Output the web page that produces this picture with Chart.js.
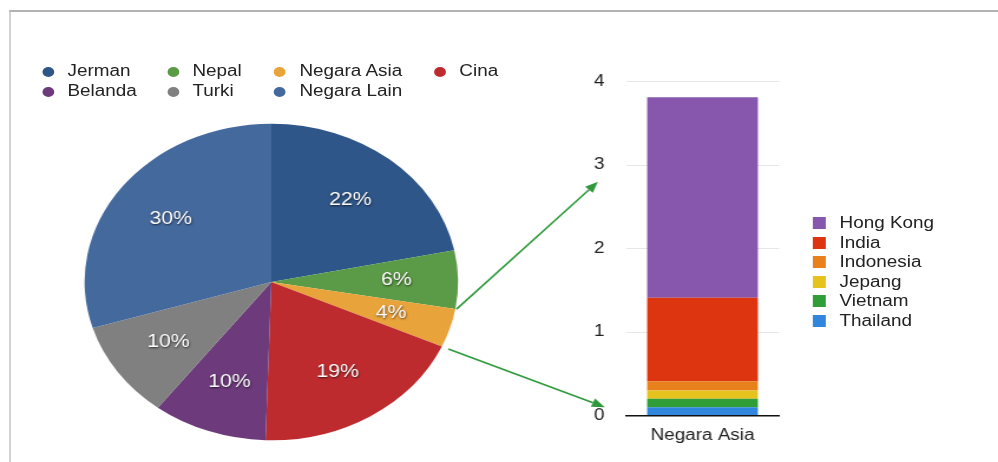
<!DOCTYPE html>
<html>
<head>
<meta charset="utf-8">
<script src="https://cdn.jsdelivr.net/npm/chart.js@4.4.1/dist/chart.umd.min.js"></script>
<style>
  html, body { margin: 0; padding: 0; background: #fff; overflow: hidden; }
  /* the whole picture is stretched sideways, so lay out at 846px and widen */
  #stage { position: absolute; left: 0; top: 0; width: 846px; height: 462px;
           transform: scaleX(1.1797); transform-origin: 0 0;
           font-family: "Liberation Sans", Arial, sans-serif; color: #222; }
  #frame { position: absolute; left: 7.7px; top: 10px; width: 900px; height: 500px;
           border-top: 2px solid #b3b3b3; border-left: 1.7px solid #b3b3b3; }
  #pie-chart { position: absolute; left: 65px; top: 116.5px; }
  #bar-chart { position: absolute; left: 480px; top: 60px; }
  #arrows { position: absolute; left: 0; top: 0; pointer-events: none; }
  .leg { position: absolute; font-size: 16px; line-height: 20px; white-space: nowrap; }
  .leg span.dot { display: inline-block; width: 10px; height: 10px; border-radius: 50%;
                  vertical-align: -1px; margin-right: 11.5px; }
  .leg2 { position: absolute; font-size: 16px; line-height: 19.6px; white-space: nowrap; }
  .leg2 span.sq { display: inline-block; width: 11px; height: 12px;
                  vertical-align: -1px; margin-right: 12px; }
</style>
</head>
<body>
<div id="stage">
  <div id="frame"></div>
  <div id="pieLegend"></div>
  <div id="barLegend"></div>
  <canvas id="pie-chart" width="330" height="330"></canvas>
  <canvas id="bar-chart" width="190" height="388"></canvas>
  <canvas id="arrows" width="846" height="462"></canvas>
</div>
<script>
// DADOS
const pieLabels = ['Jerman', 'Nepal', 'Negara Asia', 'Cina', 'Belanda', 'Turki', 'Negara Lain'];
const pieValues = [22, 6, 4, 19, 10, 10, 30];
const pieColors = ['#2f5689', '#5b9a46', '#e9a33b', '#be2b2f', '#6d3a7b', '#808080', '#44699d'];

const barCategories = ['Negara Asia'];
const barSeries = ['Thailand', 'Vietnam', 'Jepang', 'Indonesia', 'India', 'Hong Kong'];
const barValues = [0.1, 0.1, 0.1, 0.11, 1.0, 2.4];
const barColors = ['#2f86dc', '#2f9e38', '#e6c21e', '#e8801c', '#dc3510', '#8757ad'];
const yTicks = [0, 1, 2, 3, 4];

// legenda da pizza: 4 colunas, 2 linhas
const pieCols = [35.7, 141.6, 232.3, 367.9];
const pieLegend = document.getElementById('pieLegend');
pieLabels.forEach((name, i) => {
    const d = document.createElement('div');
    d.className = 'leg';
    d.style.left = pieCols[i % 4] + 'px';
    d.style.top = (61 + Math.floor(i / 4) * 20) + 'px';
    d.innerHTML = '<span class="dot" style="background:' + pieColors[i] + '"></span>' + name;
    pieLegend.appendChild(d);
});

// legenda das barras (ordem invertida, Hong Kong em cima)
const barLegend = document.getElementById('barLegend');
barSeries.slice().reverse().forEach((name, k) => {
    const i = barSeries.length - 1 - k;
    const d = document.createElement('div');
    d.className = 'leg2';
    d.style.left = '688.7px';
    d.style.top = (212.9 + k * 19.6) + 'px';
    d.innerHTML = '<span class="sq" style="background:' + barColors[i] + '"></span>' + name;
    barLegend.appendChild(d);
});

// rótulos de percentagem dentro das fatias
const sliceLabels = {
    id: 'sliceLabels',
    afterDatasetsDraw(chart) {
        const ctx = chart.ctx;
        const meta = chart.getDatasetMeta(0);
        ctx.save();
        ctx.font = '18px "Liberation Sans", Arial, sans-serif';
        ctx.fillStyle = '#fff';
        ctx.textAlign = 'center';
        ctx.textBaseline = 'middle';
        ctx.shadowColor = 'rgba(0,0,0,0.65)';
        ctx.shadowBlur = 2;
        ctx.shadowOffsetX = 0.5;
        ctx.shadowOffsetY = 1;
        meta.data.forEach((arc, i) => {
            const mid = (arc.startAngle + arc.endAngle) / 2;
            const r = arc.outerRadius * 0.67;
            ctx.fillText(pieValues[i] + '%', arc.x + r * Math.cos(mid), arc.y + r * Math.sin(mid));
        });
        ctx.restore();
    }
};

const pieChart = new Chart(document.getElementById('pie-chart'), {
    type: 'pie',
    data: {
        labels: pieLabels,
        datasets: [{ data: pieValues, backgroundColor: pieColors, borderWidth: 0 }]
    },
    options: {
        responsive: false,
        animation: false,
        layout: { padding: 6.7 },
        plugins: { legend: { display: false }, tooltip: { enabled: false } }
    },
    plugins: [sliceLabels]
});

const barChart = new Chart(document.getElementById('bar-chart'), {
    type: 'bar',
    data: {
        labels: barCategories,
        datasets: barSeries.map((name, i) => ({
            label: name,
            data: [barValues[i]],
            backgroundColor: barColors[i],
            borderWidth: 0,
            barPercentage: 0.722,
            categoryPercentage: 1
        }))
    },
    options: {
        responsive: false,
        animation: false,
        layout: { padding: { top: 21.5, right: 9.5, bottom: 0, left: 0 } },
        plugins: { legend: { display: false }, tooltip: { enabled: false } },
        scales: {
            x: {
                stacked: true,
                grid: { display: false, drawTicks: false },
                border: { display: true, color: '#111', width: 1.5 },
                ticks: { color: '#222', padding: 10, font: { family: '"Liberation Sans", Arial, sans-serif', size: 16 } },
                afterFit: (scale) => { scale.height = 32.5; }
            },
            y: {
                stacked: true,
                min: yTicks[0],
                max: yTicks[yTicks.length - 1],
                afterBuildTicks: (scale) => { scale.ticks = yTicks.map(v => ({ value: v })); },
                grid: {
                    drawTicks: false,
                    color: (c) => c.tick && c.tick.value === 0 ? 'rgba(0,0,0,0)' : '#e6e6e6',
                    lineWidth: 1
                },
                border: { display: false },
                ticks: { color: '#222', padding: 18, font: { family: '"Liberation Sans", Arial, sans-serif', size: 16 } },
                afterFit: (scale) => {
                    scale.width = 50.5;
                    scale.paddingTop = 0;
                    scale.paddingBottom = 0;
                }
            }
        }
    }
});

// setas verdes ligando a fatia "Negara Asia" à barra
function drawArrows() {
    const cv = document.getElementById('arrows');
    const ctx = cv.getContext('2d');
    const pieBox = document.getElementById('pie-chart');
    const barBox = document.getElementById('bar-chart');
    const px = pieBox.offsetLeft, py = pieBox.offsetTop;
    const bx = barBox.offsetLeft, by = barBox.offsetTop;
    const arc = pieChart.getDatasetMeta(0).data[2];
    const yScale = barChart.scales.y;
    const left = barChart.chartArea.left;

    const arrows = [
        { angle: arc.startAngle, off: 1, value: 2.8, dx: -23.7 },
        { angle: arc.endAngle, off: 6, value: 0.1, dx: -17.8 }
    ];
    ctx.strokeStyle = '#2f9a3c';
    ctx.fillStyle = '#2f9a3c';
    ctx.lineWidth = 1.6;
    arrows.forEach(a => {
        const x0 = px + arc.x + (arc.outerRadius + a.off) * Math.cos(a.angle);
        const y0 = py + arc.y + (arc.outerRadius + a.off) * Math.sin(a.angle);
        const x1 = bx + left + a.dx;
        const y1 = by + yScale.getPixelForValue(a.value);
        const ang = Math.atan2(y1 - y0, x1 - x0);
        const hl = 11, hw = 4.5;
        const bxh = x1 - hl * Math.cos(ang), byh = y1 - hl * Math.sin(ang);
        ctx.beginPath();
        ctx.moveTo(x0, y0);
        ctx.lineTo(bxh, byh);
        ctx.stroke();
        ctx.beginPath();
        ctx.moveTo(x1, y1);
        ctx.lineTo(bxh + hw * Math.sin(ang), byh - hw * Math.cos(ang));
        ctx.lineTo(bxh - hw * Math.sin(ang), byh + hw * Math.cos(ang));
        ctx.closePath();
        ctx.fill();
    });
}
drawArrows();
</script>
</body>
</html>
